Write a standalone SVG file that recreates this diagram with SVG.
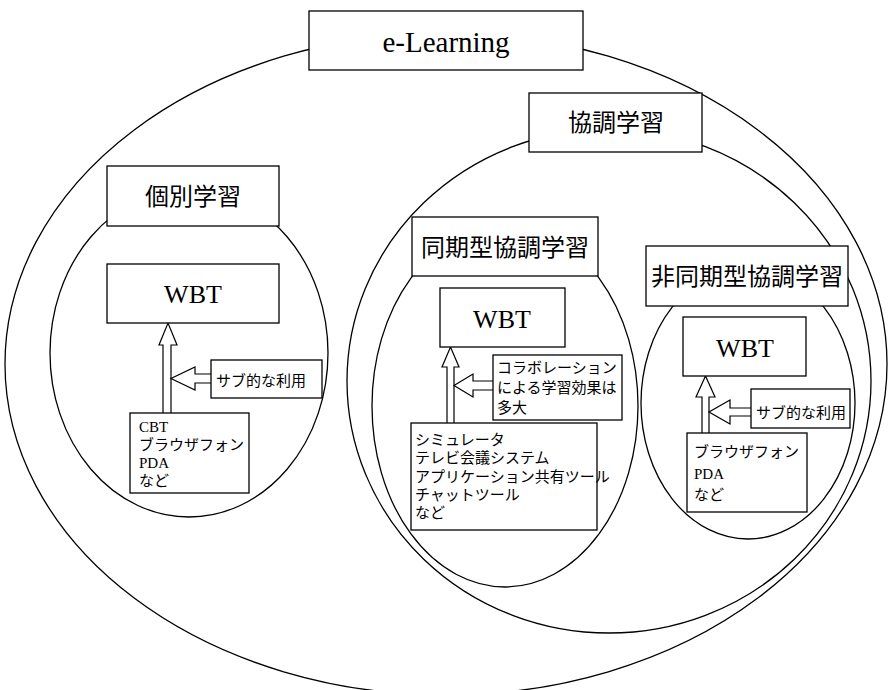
<svg xmlns="http://www.w3.org/2000/svg" width="889" height="690" viewBox="0 0 889 690">
<style>
.ell{fill:none;stroke:#000;stroke-width:1.3}
.box{fill:#fff;stroke:#000;stroke-width:1.3}
.arr{fill:#fff;stroke:#000;stroke-width:1.2;stroke-linejoin:miter}
.h{font-family:"Noto Sans CJK JP",sans-serif;font-size:24px;fill:#000;text-anchor:middle}
.t{font-family:"Liberation Serif","Noto Sans CJK JP",serif;font-size:15px;fill:#000}
.lat{font-family:"Liberation Serif","Times New Roman","DejaVu Serif",serif;font-weight:normal;fill:#000;text-anchor:middle}
</style>
<rect width="889" height="690" fill="#fff"/>
<g id="ellipses">
<ellipse class="ell" cx="446" cy="364" rx="441" ry="331"/>
<ellipse class="ell" cx="609" cy="381" rx="262" ry="252"/>
<ellipse class="ell" cx="189" cy="353" rx="139" ry="164"/>
<ellipse class="ell" cx="505" cy="406" rx="133" ry="181"/>
<ellipse class="ell" cx="748" cy="403" rx="107" ry="136"/>
</g>
<g id="connectors">
<path class="arr" d="M163,413 V345 H159 L168,323 L177,345 H171 V413"/>
<path class="arr" d="M211,374 H195 V367 L171,378.5 L195,390 V383 H211"/>
<path class="arr" d="M447,423 V367 H442 L450.5,347 L459,367 H454 V423"/>
<path class="arr" d="M493,381 H473 V374 L454,385.5 L473,397 V390 H493"/>
<path class="arr" d="M702,433 V397 H696 L705.5,376 L715,397 H709 V433"/>
<path class="arr" d="M751,408 H730 V400 L709,412 L730,424 V416 H751"/>
</g>
<g id="elearning">
<rect class="box" x="309" y="11" width="274" height="59"/>
<text class="lat" x="446" y="52" style="font-size:29px">e-Learning</text>
</g>
<g id="kyocho">
<rect class="box" x="529" y="93" width="173" height="59"/>
<text class="h" x="616" y="131">協調学習</text>
</g>
<g id="kobetsu">
<rect class="box" x="107" y="166" width="172" height="60"/>
<text class="h" x="193" y="205">個別学習</text>
</g>
<g id="wbt1">
<rect class="box" x="107" y="264" width="172" height="59"/>
<text class="lat" x="193" y="303" style="font-size:26px">WBT</text>
</g>
<g id="sub1">
<rect class="box" x="211" y="360" width="111" height="38"/>
<text class="t" x="216" y="386" font-size="16">サブ的な利用</text>
</g>
<g id="cbt">
<rect class="box" x="130" y="413" width="119" height="80"/>
<text class="t" x="139" y="432">CBT</text>
<text class="t" x="139" y="450">ブラウザフォン</text>
<text class="t" x="139" y="468">PDA</text>
<text class="t" x="139" y="486">など</text>
</g>
<g id="doki">
<rect class="box" x="412" y="217" width="186" height="59"/>
<text class="h" x="505" y="256">同期型協調学習</text>
</g>
<g id="wbt2">
<rect class="box" x="440" y="288" width="125" height="59"/>
<text class="lat" x="502" y="328" style="font-size:26px">WBT</text>
</g>
<g id="collab">
<rect class="box" x="493" y="355" width="129" height="65"/>
<text class="t" x="497" y="373">コラボレーション</text>
<text class="t" x="497" y="393">による学習効果は</text>
<text class="t" x="497" y="413">多大</text>
</g>
<g id="sim">
<rect class="box" x="411" y="423" width="186" height="107"/>
<text class="t" x="415" y="445" font-size="13.8">シミュレータ</text>
<text class="t" x="415" y="463" font-size="13.8">テレビ会議システム</text>
<text class="t" x="415" y="482" font-size="13.8">アプリケーション共有ツール</text>
<text class="t" x="415" y="500" font-size="13.8">チャットツール</text>
<text class="t" x="415" y="518" font-size="13.8">など</text>
</g>
<g id="hidoki">
<rect class="box" x="646" y="246" width="202" height="60"/>
<text class="h" x="747" y="285">非同期型協調学習</text>
</g>
<g id="wbt3">
<rect class="box" x="683" y="317" width="123" height="59"/>
<text class="lat" x="745" y="357" style="font-size:26px">WBT</text>
</g>
<g id="sub3">
<rect class="box" x="751" y="389" width="99" height="39"/>
<text class="t" x="756" y="418" font-size="15.5">サブ的な利用</text>
</g>
<g id="phone">
<rect class="box" x="687" y="433" width="120" height="79"/>
<text class="t" x="694" y="457">ブラウザフォン</text>
<text class="t" x="694" y="479">PDA</text>
<text class="t" x="694" y="500">など</text>
</g>
</svg>
